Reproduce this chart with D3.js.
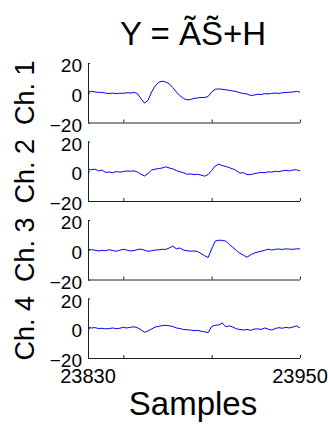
<!DOCTYPE html>
<html>
<head>
<meta charset="utf-8">
<script src="https://cdn.jsdelivr.net/npm/d3@7/dist/d3.min.js"></script>
<style>
  body { margin: 0; background: #fff; }
  svg { display: block; font-family: "Liberation Sans", Arial, sans-serif; }
</style>
</head>
<body>
<svg id="chart" width="328" height="424"></svg>
<script>
// samples 23830..23950, every 2nd sample
const sampleStart = 23830;
const sampleStep = 2;
const xTicks = [23850, 23900, 23950];
const xTickLabels = [23830, 23950];
const yTicks = [-20, 0, 20];
const channelNames = ['Ch. 1', 'Ch. 2', 'Ch. 3', 'Ch. 4'];

const ch1 = [0.5, 1.0, 0.5, 0.3, 0.2, -0.3, -0.5, -0.2, -0.6, -0.3,
  -0.4, 0.0, -0.2, 0.2, -0.5, -4.0, -7.0, -5.0, 0.5, 4.5,
  7.0, 7.8, 7.2, 6.0, 3.5, 0.5, -2.0, -3.8, -4.8, -4.6,
  -3.8, -3.5, -3.2, -3.2, -2.5, 0.5, 2.3, 2.6, 2.3, 2.0,
  1.6, 1.2, 0.8, 0.0, -0.5, -0.8, -1.8, -1.6, -1.0, -1.2,
  -0.6, -0.8, -0.4, -0.2, -0.5, 0.0, 0.2, 0.3, 0.5, 1.0, 0.4];
const ch2 = [1.2, 1.0, 1.4, 0.2, 0.8, -0.8, -0.5, -1.0, -0.2, -0.6,
  -0.2, 0.2, 0.0, 0.3, -0.5, -2.0, -3.2, -1.5, 0.8, 1.4,
  1.8, 2.2, 3.0, 2.2, 1.6, 0.5, -0.3, -1.0, -2.0, -1.8,
  -2.2, -2.0, -2.6, -3.3, -2.2, 0.5, 3.5, 4.8, 3.8, 3.2,
  2.4, 1.6, 0.4, -1.2, -1.0, -2.2, -2.3, -1.6, -1.2, -0.8,
  -1.0, -0.4, -0.6, 0.0, -0.3, 0.3, 0.6, 0.2, 0.9, 1.0, 0.2];
const ch3 = [0.2, 0.0, -0.3, -0.8, -0.4, -0.6, 0.0, -0.5, -1.0, -0.3,
  0.3, -0.2, -0.8, -0.6, 0.2, 0.4, -0.3, -1.0, -0.7, -0.2,
  0.0, 0.3, 0.2, 1.2, 2.4, 0.6, 1.2, -0.2, -0.6, -1.0,
  -0.8, -1.2, -2.6, -4.0, -5.2, 0.5, 5.8, 6.4, 6.3, 5.8,
  3.5, 1.6, -0.5, -2.4, -3.6, -5.0, -3.5, -2.2, -1.6, -1.0,
  -0.4, 0.4, -0.2, 0.3, 0.5, 0.2, 0.6, 0.4, 0.3, 0.6, 0.6];
const ch4 = [0.5, 0.2, 0.4, -0.2, 0.0, -0.4, -0.2, 0.2, -0.3, 0.0,
  0.6, 0.2, 0.6, 1.0, 0.3, -1.0, -2.7, -1.8, -0.5, 0.8,
  1.2, 1.8, 2.0, 1.6, 1.2, 0.2, -0.2, -0.8, -1.0, -1.2,
  -1.6, -1.4, -2.0, -2.4, -3.0, 1.2, 2.0, 2.2, 3.6, 1.0,
  1.6, 0.8, -0.4, -0.8, -1.2, -0.8, -1.4, -0.6, -0.4, -0.8,
  0.2, -0.6, -1.2, -0.2, 0.4, 0.0, 0.6, 0.2, 0.8, 1.6, 0.2];
const channels = [ch1, ch2, ch3, ch4];

const svg = d3.select('#chart');
const left = 88, right = 300;
const firstTop = 63, panelGap = 78.5, panelH = 59.5;

const x = d3.scaleLinear().domain([23830, 23950]).range([left, right]);

channels.forEach((vals, i) => {
  const top = firstTop + i * panelGap;
  const y = d3.scaleLinear().domain([-20, 20]).range([top + panelH, top]);
  const g = svg.append('g');

  const xAxis = d3.axisBottom(x).tickValues(xTicks).tickSize(-3).tickFormat('');
  g.append('g')
    .attr('transform', `translate(0, ${top + panelH})`)
    .call(xAxis)
    .call(a => a.select('.domain').attr('d', `M${left},0.5H${right}`));

  const yAxis = d3.axisLeft(y).tickValues(yTicks).tickSize(-2).tickPadding(6);
  g.append('g')
    .attr('transform', `translate(${left}, 0)`)
    .call(yAxis)
    .call(a => a.select('.domain').attr('d', `M0.5,${top}V${top + panelH}`))
    .call(a => a.selectAll('text')
      .attr('font-size', 19)
      .attr('font-family', '"Liberation Sans", Arial, sans-serif')
      .attr('dy', '0.45em')
      .attr('fill', '#000'));

  g.selectAll('.domain, .tick line').attr('stroke', '#222');

  const line = d3.line()
    .x((d, k) => x(sampleStart + k * sampleStep))
    .y(d => y(d));
  g.append('path')
    .datum(vals)
    .attr('d', line)
    .attr('fill', 'none')
    .attr('stroke', '#0000ff')
    .attr('stroke-width', 1);

  g.append('text')
    .attr('transform', `translate(34, ${top + panelH / 2}) rotate(-90)`)
    .attr('text-anchor', 'middle')
    .attr('font-size', 27)
    .text(channelNames[i]);

  if (i === channels.length - 1) {
    g.selectAll('.xlab')
      .data(xTickLabels)
      .enter().append('text')
      .attr('x', d => x(d))
      .attr('y', top + panelH + 25)
      .attr('text-anchor', 'middle')
      .attr('font-size', 20)
      .text(d => d);
  }
});

svg.append('text')
  .attr('x', 193)
  .attr('y', 45)
  .attr('text-anchor', 'middle')
  .attr('font-size', 33)
  .text('Y = \u00C3S\u0303+H');

svg.append('text')
  .attr('x', 193)
  .attr('y', 415)
  .attr('text-anchor', 'middle')
  .attr('font-size', 33)
  .text('Samples');
</script>
</body>
</html>
